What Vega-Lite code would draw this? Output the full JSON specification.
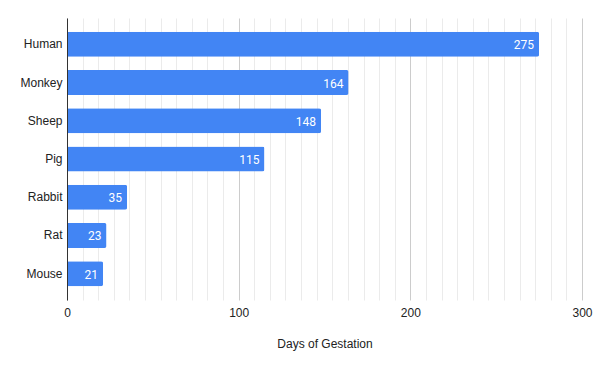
{
  "$schema": "https://vega.github.io/schema/vega-lite/v6.json",
  "autosize": {"type": "none"},
  "padding": {"left": 67, "top": 18, "right": 18, "bottom": 71},
  "width": 515,
  "height": 282,
  "background": "white",
  "config": {
    "view": {"stroke": null},
    "font": "Liberation Sans"
  },
  "data": {
    "values": [
      {"animal": "Human", "days": 275},
      {"animal": "Monkey", "days": 164},
      {"animal": "Sheep", "days": 148},
      {"animal": "Pig", "days": 115},
      {"animal": "Rabbit", "days": 35},
      {"animal": "Rat", "days": 23},
      {"animal": "Mouse", "days": 21}
    ]
  },
  "encoding": {
    "y": {
      "field": "animal",
      "type": "nominal",
      "sort": null,
      "scale": {"paddingInner": 0.346, "paddingOuter": 0.36},
      "axis": {
        "title": null,
        "ticks": false,
        "labelPadding": 5,
        "labelFontSize": 12,
        "labelColor": "#222222",
        "labelFont": "Liberation Sans",
        "domainColor": "#333333",
        "domainWidth": 1,
        "zindex": 1
      }
    },
    "x": {
      "field": "days",
      "type": "quantitative",
      "scale": {"domain": [0, 300], "nice": false},
      "axis": {
        "title": "Days of Gestation",
        "titleFontSize": 12,
        "titleFontWeight": "normal",
        "titleColor": "#222222",
        "titleFont": "Liberation Sans",
        "titlePadding": 20,
        "domain": false,
        "ticks": false,
        "labelPadding": 7,
        "labelFontSize": 12,
        "labelColor": "#222222",
        "labelFont": "Liberation Sans",
        "labelOverlap": false,
        "labelFlush": false,
        "values": [0, 9.0909, 18.1818, 27.2727, 36.3636, 45.4545, 54.5455, 63.6364, 72.7273, 81.8182, 90.9091,
                   100, 109.0909, 118.1818, 127.2727, 136.3636, 145.4545, 154.5455, 163.6364, 172.7273, 181.8182, 190.9091,
                   200, 209.0909, 218.1818, 227.2727, 236.3636, 245.4545, 254.5455, 263.6364, 272.7273, 281.8182, 290.9091, 300],
        "labelExpr": "indexof([0,100,200,300], datum.value) >= 0 ? format(datum.value, 'd') : ''",
        "gridColor": {"condition": {"test": "indexof([0,100,200,300], datum.value) >= 0", "value": "#cccccc"}, "value": "#ebebeb"},
        "gridWidth": 1
      }
    }
  },
  "layer": [
    {
      "mark": {"type": "bar", "color": "#4285F4", "cornerRadiusEnd": 2}
    },
    {
      "mark": {"type": "text", "align": "right", "baseline": "middle", "dx": -5, "dy": 1, "color": "white", "fontSize": 12, "font": "Roboto"},
      "encoding": {"text": {"field": "days", "type": "quantitative"}}
    }
  ]
}
